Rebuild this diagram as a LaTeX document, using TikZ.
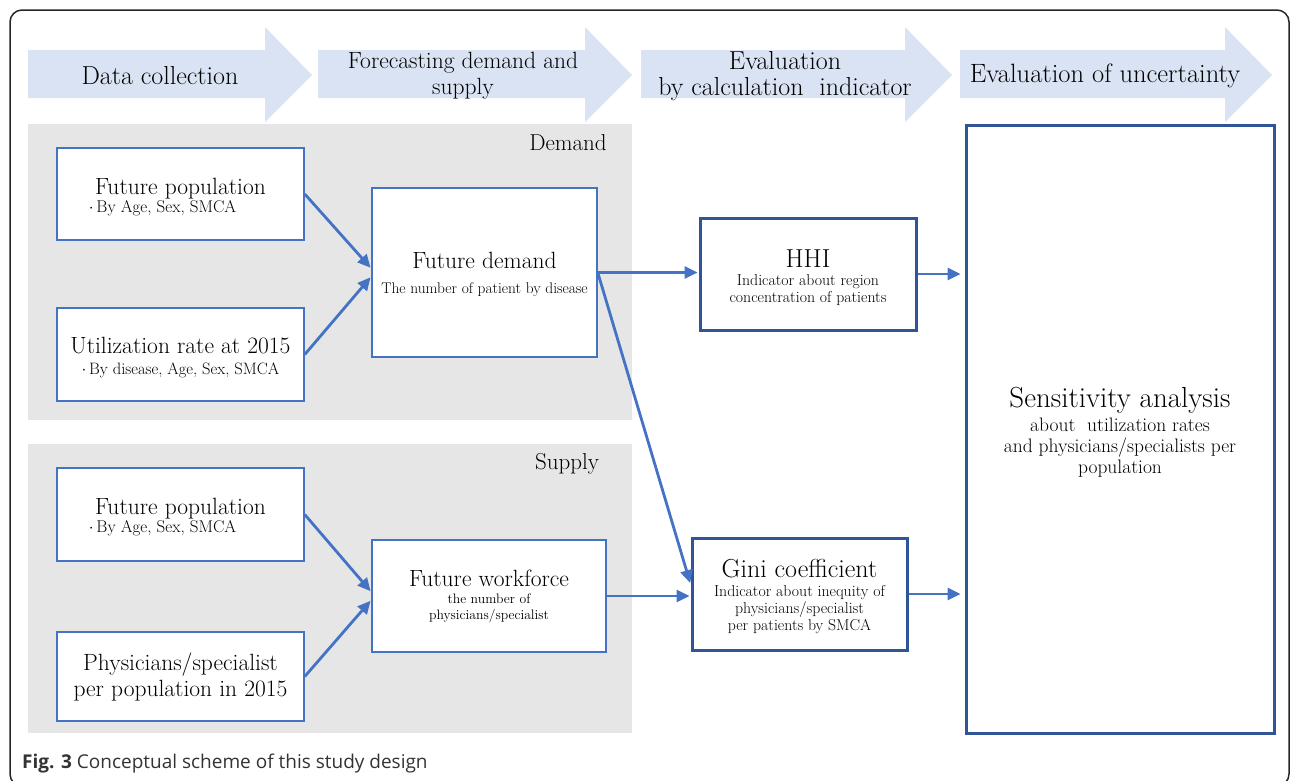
\documentclass[tikz,border=0pt]{standalone}
\usepackage{fontspec}
\newfontfamily\capfont{Open Sans}
\usetikzlibrary{arrows.meta}

\definecolor{bannerblue}{HTML}{DAE3F3}
\definecolor{panelgray}{HTML}{E6E6E6}
\definecolor{linkblue}{HTML}{4472C4}
\definecolor{darkblue}{HTML}{2F5597}

\newcommand{\titlesz}{\fontsize{23.5}{26}\selectfont}
\newcommand{\bulletsz}{\fontsize{17}{19}\selectfont}

\begin{document}
\begin{tikzpicture}[x=1pt,y=-1pt,>={Triangle[length=13pt,width=12pt]},shorten >=1pt,
      box/.style={draw=linkblue,line width=1.5pt,fill=white,align=center,
        inner sep=0pt,font=\fontsize{15.8}{17}\selectfont},
      keybox/.style={box,draw=darkblue,line width=3pt},
      link/.style={->,draw=linkblue,line width=2.8pt}]

    \useasboundingbox (0,0) rectangle (1292,780);
    \draw[black!85,line width=1.5pt,rounded corners=12pt] (10,10) rectangle (1289,786);

    % stages
    \foreach \s/\e/\c/\f/\t [count=\i] in {28/265/160/26/{Data collection},
        318/585/463/23.5/{Forecasting demand and\\supply},
        641/905/785/26/{Evaluation\\by calculation\ \ indicator},
        960/1225/1105/26.5/{Evaluation of uncertainty}}
    {
      \fill[bannerblue] (\s,50) -- (\e,50) -- (\e,27) -- (\e+47,75) -- (\e,122)
        -- (\e,98) -- (\s,98) -- cycle;
      \node[align=center,font=\fontsize{\f}{26}\selectfont] (stage\i) at (\c,76) {\t};
    }

    % demand and supply
    \fill[panelgray] (28,124) rectangle (632,420);
    \fill[panelgray] (28,444) rectangle (632,733);
    \node[font=\fontsize{23}{25}\selectfont] (demandlbl) at (568,143) {Demand};
    \node[font=\fontsize{23}{25}\selectfont] (supplylbl) at (567,464) {Supply};

    \node[box,minimum width=247,minimum height=92] (popD) at (180.5,194)
      {\rule{0pt}{22pt}{\titlesz Future population}\\[1pt]
       {\bulletsz $\cdot$\,By Age, Sex, SMCA\hspace*{36pt}}};
    \node[box,minimum width=247,minimum height=93] (rateD) at (180.5,354.5)
      {\rule{0pt}{23pt}{\titlesz Utilization rate at 2015}\\[4pt]
       {\fontsize{16.5}{19}\selectfont $\cdot$\,By disease, Age, Sex, SMCA}};
    \node[box,minimum width=225,minimum height=169,font=\fontsize{15.4}{17}\selectfont]
      (demand) at (484.5,272.5)
      {\rule{0pt}{21pt}{\titlesz Future demand}\\[8pt] The number of patient by disease};

    \node[box,minimum width=247,minimum height=93] (popS) at (180.5,514.5)
      {\rule{0pt}{22pt}{\titlesz Future population}\\[1pt]
       {\bulletsz $\cdot$\,By Age, Sex, SMCA\hspace*{36pt}}};
    \node[box,minimum width=247,minimum height=89,font=\titlesz] (physS) at (180.5,676.5)
      {Physicians/specialist\\per population in 2015};
    \node[box,minimum width=234,minimum height=112,font=\fontsize{13.7}{16}\selectfont]
      (work) at (489,596)
      {{\titlesz Future workforce}\\[1pt] the number of\\physicians/specialist};

    % indicators
    \node[keybox,minimum width=216,minimum height=112] (hhi) at (808,274)
      {\rule{0pt}{26pt}{\fontsize{26}{28}\selectfont HHI}\\[1pt] Indicator about region\\
       concentration of patients};
    \node[keybox,minimum width=215,minimum height=112] (gini) at (799.5,594)
      {\rule{0pt}{24pt}{\fontsize{26}{28}\selectfont Gini coefficient}\\[2pt]
       Indicator about inequity of\\physicians/specialist\\per patients by SMCA};
    \node[keybox,minimum width=308,minimum height=608,font=\fontsize{19.5}{21}\selectfont]
      (sens) at (1120,429)
      {\rule{0pt}{27pt}{\fontsize{29}{30}\selectfont Sensitivity analysis}\\[3pt]
       about\ \ utilization rates\\and physicians/specialists per\\population};

    \path (popD.east) edge[link] ([yshift=4pt]demand.west)
          (rateD.east) edge[link] ([yshift=-4pt]demand.west)
          (popS.east) edge[link] ([yshift=4pt]work.west)
          (physS.east) edge[link] ([yshift=-4pt]work.west)
          (demand.east) edge[link] (demand.east -| hhi.west)
          (demand.east) edge[link] ([yshift=10pt]gini.west)
          (work.east) edge[link] (work.east -| gini.west)
          (hhi.east) edge[link,shorten >=4pt] (hhi.east -| sens.west)
          (gini.east) edge[link,shorten >=4pt] (gini.east -| sens.west);

    \node[anchor=base west,inner sep=0pt,text=black!80,
      font=\capfont\fontsize{19}{21}\selectfont] (caption) at (22,768)
      {\textbf{Fig. 3} Conceptual scheme of this study design};

    \end{tikzpicture}
\end{document}
